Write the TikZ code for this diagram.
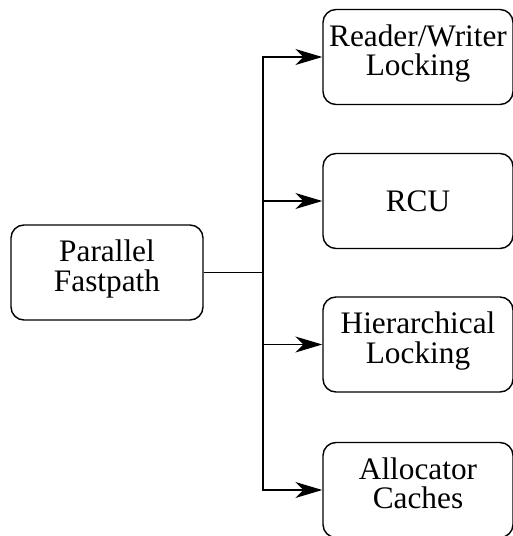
\documentclass[tikz,border=0pt]{standalone}
\usepackage{fontspec}
\setmainfont{Liberation Serif}
\newfontfamily\libserif{Liberation Serif}
\usetikzlibrary{arrows.meta}
\begin{document}
\begin{tikzpicture}[x=1pt,y=-1pt,
  box/.style={draw=black, line width=1.4pt, rounded corners=13pt, minimum width=190pt, minimum height=95pt, inner sep=0pt, align=center, font=\libserif\fontsize{31.3}{29.5}\selectfont},
  twoline/.style={text depth=13.5pt},
  conn/.style={line width=1.4pt},
  arr/.style={conn, -{Stealth[length=27pt, width=16pt, inset=8pt]}}]
\useasboundingbox (0,0) rectangle (513,536);
\node[box, twoline, minimum width=192pt] (pf) at (107,272.5) {Parallel\\Fastpath};
\node[box, twoline] (rw) at (418,57) {Reader/Writer\\Locking};
\node[box] (rcu) at (418,201) {RCU};
\node[box, twoline] (hl) at (418,344.5) {Hierarchical\\Locking};
\node[box, twoline] (ac) at (418,490) {Allocator\\Caches};
\coordinate (j) at (263,272.5);
\draw[conn] (pf.east) -- (j);
\draw[arr] (j) |- (rw.west);
\draw[arr] (j) |- (rcu.west);
\draw[arr] (j) |- (hl.west);
\draw[arr] (j) |- (ac.west);
\end{tikzpicture}
\end{document}
